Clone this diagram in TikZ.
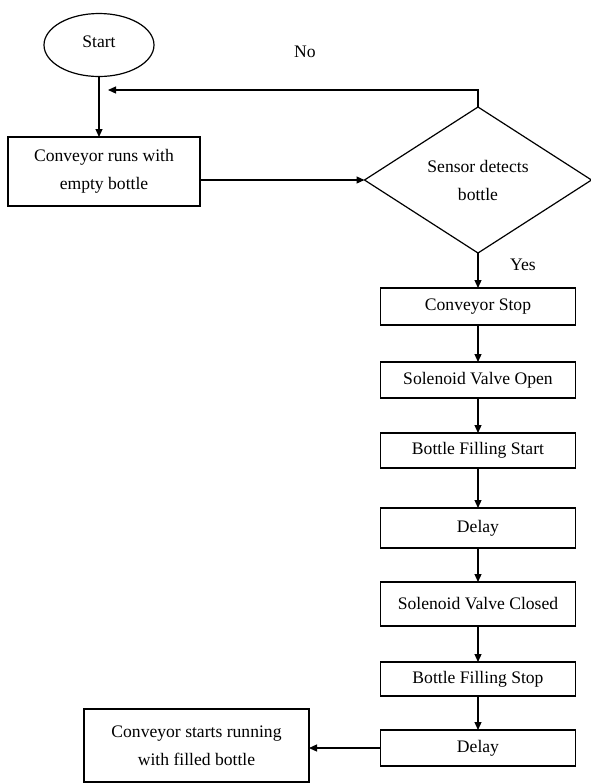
\documentclass[tikz,border=0pt]{standalone}
\usepackage{fontspec}
\setmainfont{Liberation Serif}
\usetikzlibrary{shapes.geometric,arrows.meta}

\newlength{\px}
\setlength{\px}{0.75pt}

\begin{document}
\begin{tikzpicture}[
  every node/.style={inner sep=0pt,outer sep=0pt,font=\fontsize{13.2}{21}\selectfont},
  flowbox/.style={draw=flowline,line width=1.2\px,rectangle,minimum width=195\px,align=center},
  startshape/.style={draw=flowline,line width=1.2\px,ellipse,minimum width=110\px,minimum height=63\px},
  decision/.style={draw=flowline,line width=1.2\px,diamond,shape aspect=1.55,minimum width=227\px,minimum height=146\px,align=center},
  flowarrow/.style={draw=flowline,line width=1.2\px,-{Triangle[length=6pt,width=5.25pt]}}
]
\definecolor{flowline}{rgb}{0.000000, 0.000000, 0.000000}
\useasboundingbox (0,0) rectangle (590\px,-783\px);

% left side
\node[startshape] (start) at (99\px,-45\px) {\raisebox{6\px}{Start}};
\node[flowbox,minimum width=192\px,minimum height=69\px] (runempty) at (104\px,-171.5\px) {Conveyor runs with\\empty bottle};
\node[flowbox,minimum width=225\px,minimum height=73\px] (runfilled) at (196.5\px,-745.5\px) {Conveyor starts running\\with filled bottle};

% decision
\node[decision] (detect) at (478\px,-180\px) {Sensor detects\\bottle};
\node (nolabel) at (305\px,-52\px) {No};
\node (yeslabel) at (523\px,-265\px) {Yes};
\coordinate (loopend) at (108\px,-90\px);

% right column
\node[flowbox,minimum height=37\px] (stopbelt) at (478\px,-306.5\px) {Conveyor Stop};
\node[flowbox,minimum height=36\px] (valveopen) at (478\px,-380\px) {Solenoid Valve Open};
\node[flowbox,minimum height=35\px] (fillstart) at (478\px,-450.5\px) {Bottle Filling Start};
\node[flowbox,minimum height=40\px] (delayone) at (478\px,-528\px) {Delay};
\node[flowbox,minimum height=44\px] (valveclosed) at (478\px,-604\px) {Solenoid Valve Closed};
\node[flowbox,minimum height=34\px] (fillstop) at (478\px,-679\px) {Bottle Filling Stop};
\node[flowbox,minimum height=36\px] (delaytwo) at (478\px,-748\px) {Delay};

% connectors
\draw[flowarrow] (start.south) -- (start.south |- runempty.north);
\draw[flowarrow] (runempty.east |- detect.west) -- (detect.west);
\draw[flowarrow] (detect.north) |- (loopend);
\draw[flowarrow] (detect.south) -- (stopbelt.north);
\draw[flowarrow] (stopbelt.south) -- (valveopen.north);
\draw[flowarrow] (valveopen.south) -- (fillstart.north);
\draw[flowarrow] (fillstart.south) -- (delayone.north);
\draw[flowarrow] (delayone.south) -- (valveclosed.north);
\draw[flowarrow] (valveclosed.south) -- (fillstop.north);
\draw[flowarrow] (fillstop.south) -- (delaytwo.north);
\draw[flowarrow] (delaytwo.west) -- (runfilled.east |- delaytwo.west);
\end{tikzpicture}
\end{document}
